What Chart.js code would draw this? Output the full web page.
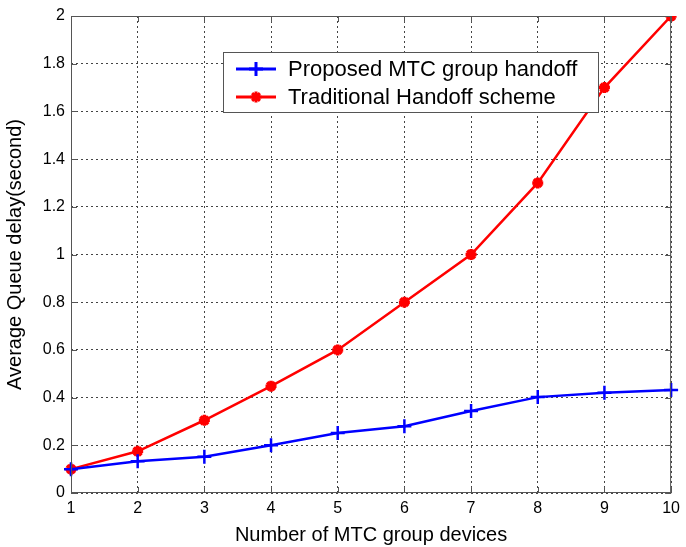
<!DOCTYPE html>
<html>
<head>
<meta charset="utf-8">
<script src="https://cdn.jsdelivr.net/npm/chart.js@4/dist/chart.umd.min.js"></script>
<style>
  html, body { margin: 0; padding: 0; background: #fff; }
  #wrap { width: 686px; height: 547px; position: relative; }
</style>
</head>
<body>
<div id="wrap"><canvas id="c" width="686" height="547"></canvas></div>
<script>
// Number of MTC group devices
const devices = [1, 2, 3, 4, 5, 6, 7, 8, 9, 10];
// Average queue delay (seconds)
const proposedDelay = [0.10, 0.133, 0.152, 0.20, 0.252, 0.28, 0.344, 0.402, 0.42, 0.432];
const traditionalDelay = [0.10, 0.175, 0.305, 0.448, 0.60, 0.80, 1.0, 1.30, 1.70, 2.0];
const seriesNames = ['Proposed MTC group handoff', 'Traditional Handoff scheme'];
const yTicks = [0, 0.2, 0.4, 0.6, 0.8, 1, 1.2, 1.4, 1.6, 1.8, 2];

const FONT = 'Liberation Sans, Arial, sans-serif';
const FRAME = '#555';

// Box around the axes, inward tick marks on all sides, and the boxed legend
const framePlugin = {
  id: 'frame',
  afterDraw(chart) {
    const { ctx, chartArea: a, scales } = chart;
    ctx.save();
    ctx.strokeStyle = FRAME;
    ctx.lineWidth = 1;
    ctx.setLineDash([]);
    ctx.strokeRect(a.left + 0.5, a.top + 0.5, a.right - a.left - 1, a.bottom - a.top - 1);
    const t = 6;
    ctx.beginPath();
    devices.forEach(v => {
      const x = Math.round(scales.x.getPixelForValue(v - 1)) + 0.5;
      ctx.moveTo(x, a.bottom); ctx.lineTo(x, a.bottom - t);
      ctx.moveTo(x, a.top); ctx.lineTo(x, a.top + t);
    });
    yTicks.forEach(v => {
      const y = Math.round(scales.y.getPixelForValue(v)) + 0.5;
      ctx.moveTo(a.left, y); ctx.lineTo(a.left + t, y);
      ctx.moveTo(a.right, y); ctx.lineTo(a.right - t, y);
    });
    ctx.stroke();

    // legend
    const bx = 223, by = 52, bw = 375, bh = 60;
    ctx.fillStyle = '#fff';
    ctx.fillRect(bx, by, bw, bh);
    ctx.strokeStyle = FRAME;
    ctx.strokeRect(bx + 0.5, by + 0.5, bw, bh);
    const rows = [by + 17, by + 45];
    chart.data.datasets.forEach((ds, i) => {
      const y = rows[i];
      ctx.strokeStyle = ds.borderColor;
      ctx.lineWidth = 3;
      ctx.beginPath();
      ctx.moveTo(bx + 13, y); ctx.lineTo(bx + 53, y);
      ctx.stroke();
      Chart.helpers.drawPoint(ctx, {
        pointStyle: ds.pointStyle, radius: ds.pointRadius,
        borderWidth: ds.pointBorderWidth, rotation: 0
      }, bx + 33, y);
      ctx.fillStyle = '#000';
      ctx.font = '22px ' + FONT;
      ctx.textBaseline = 'middle';
      ctx.textAlign = 'left';
      ctx.fillText(ds.label, bx + 65, y + 1);
    });
    ctx.restore();
  }
};

new Chart(document.getElementById('c'), {
  type: 'line',
  data: {
    labels: devices,
    datasets: [
      {
        label: seriesNames[0],
        data: proposedDelay,
        borderColor: '#0000ff',
        backgroundColor: '#0000ff',
        borderWidth: 2.5,
        pointStyle: 'cross',
        pointRadius: 7,
        pointBorderWidth: 2.5,
        pointBorderColor: '#0000ff',
        tension: 0
      },
      {
        label: seriesNames[1],
        data: traditionalDelay,
        borderColor: '#ff0000',
        backgroundColor: '#ff0000',
        borderWidth: 2.5,
        pointStyle: 'star',
        pointRadius: 5.5,
        pointBorderWidth: 3.5,
        pointBorderColor: '#ff0000',
        tension: 0
      }
    ]
  },
  options: {
    responsive: false,
    animation: false,
    layout: { padding: { top: 16, right: 9, left: 0, bottom: 0 } },
    plugins: { legend: { display: false }, tooltip: { enabled: false } },
    scales: {
      x: {
        type: 'category',
        offset: false,
        grid: { color: '#444', lineWidth: 1, drawTicks: false },
        border: { display: false, dash: [2, 3] },
        ticks: { color: '#000', font: { family: FONT, size: 16 }, padding: 6, maxRotation: 0 },
        title: { display: true, text: 'Number of MTC group devices', color: '#000',
                 font: { family: FONT, size: 20 }, padding: { top: 0, bottom: 0 } },
        afterFit(s) { s.height = 54; }
      },
      y: {
        min: 0, max: 2,
        afterBuildTicks(s) { s.ticks = yTicks.map(v => ({ value: v })); },
        grid: { color: '#444', lineWidth: 1, drawTicks: false },
        border: { display: false, dash: [2, 3] },
        ticks: { color: '#000', font: { family: FONT, size: 16 }, padding: 6,
                 callback: v => String(Number(v.toFixed(1))) },
        title: { display: true, text: 'Average Queue delay(second)', color: '#000',
                 font: { family: FONT, size: 20 }, padding: { top: 3, bottom: 0 } },
        afterFit(s) { s.width = 71; }
      }
    }
  },
  plugins: [framePlugin]
});
</script>
</body>
</html>
